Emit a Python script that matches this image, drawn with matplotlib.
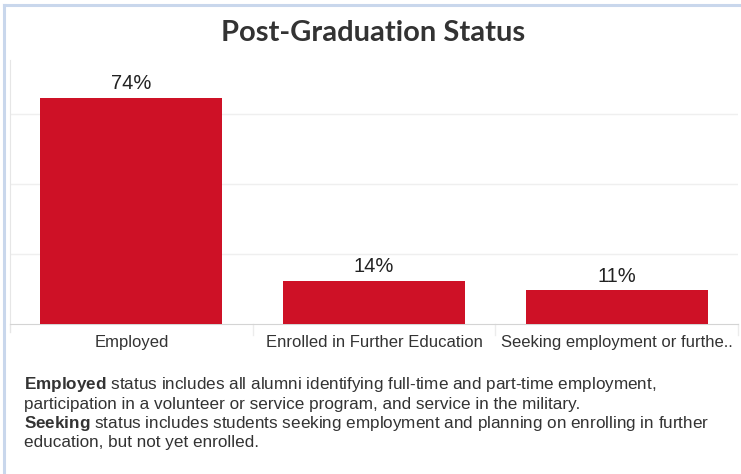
import matplotlib
matplotlib.use("Agg")
import matplotlib.pyplot as plt
import matplotlib.transforms as mtransforms
import numpy as np

# data
categories = ["Employed", "Enrolled in Further Education", "Seeking employment or furthe.."]
shares = [74, 14, 11]
value_labels = ["74%", "14%", "11%"]
grid_values = [22.9, 45.8, 68.7]

title = "Post-Graduation Status"
notes = [
    ("Employed", " status includes all alumni identifying full-time and part-time employment,"),
    ("", "participation in a volunteer or service program, and service in the military."),
    ("Seeking", " status includes students seeking employment and planning on enrolling in further"),
    ("", "education, but not yet enrolled."),
]

bar_color = "#CE1126"
W, H = 741, 474

plt.rcParams["font.family"] = ["Liberation Sans", "DejaVu Sans"]
plt.rcParams["mathtext.fontset"] = "custom"
plt.rcParams["mathtext.rm"] = "Liberation Sans"
plt.rcParams["mathtext.bf"] = "Liberation Sans:bold"

fig = plt.figure(figsize=(W / 100, H / 100), dpi=100)
fig.patch.set_facecolor("white")

# light blue frame on the left and top
fig.add_artist(plt.Line2D([4 / W, 4 / W], [0, 1 - 5 / H], color="#c9d7ec", lw=2.2))
fig.add_artist(plt.Line2D([4 / W, 1], [1 - 5 / H, 1 - 5 / H], color="#c9d7ec", lw=2.2))

ax = fig.add_axes([10 / W, 1 - 324 / H, (738 - 10) / W, (324 - 60) / H])
x = np.arange(len(categories))
bars = ax.bar(x, shares, width=0.75, color=bar_color, zorder=3)
ax.bar_label(bars, labels=value_labels, padding=3.5, fontsize=14.5, color="#222222")

ax.set_xlim(-0.5, len(categories) - 0.5)
ax.set_ylim(0, (324 - 60) * shares[0] / (324 - 98))
ax.set_yticks(grid_values)
ax.set_yticklabels([])
ax.tick_params(axis="y", length=0)
ax.grid(axis="y", color="#efefef", lw=1, zorder=0)

ax.set_xticks(x)
ax.set_xticklabels(categories, fontsize=12, color="#333333")
ax.tick_params(axis="x", length=0, pad=8)

for s in ["top", "right"]:
    ax.spines[s].set_visible(False)
ax.spines["left"].set_color("#e6e6e6")
ax.spines["bottom"].set_color("#d4d4d4")
ax.spines["bottom"].set_linestyle((0, (2, 1)))

# row header separators below the axis
trans = mtransforms.blended_transform_factory(ax.transData, ax.transAxes)
for i in range(len(categories)):
    ax.plot([i + 0.5, i + 0.5], [0, -0.04], color="#ececec", lw=1,
            transform=trans, clip_on=False)
ax.plot([-0.5, -0.5], [0, -0.03], color="#e6e6e6", lw=1, transform=trans, clip_on=False)

fig.text(373 / W, 1 - 41 / H, title, ha="center", va="baseline",
         fontsize=21, fontweight="bold", color="#333333", family=["Lato", "DejaVu Sans"])

y0 = 389
for k, (bold, rest) in enumerate(notes):
    s = rest
    if bold:
        s = r"$\bf{" + bold + "}$" + rest
    fig.text(24 / W, 1 - (y0 + k * 19.5) / H, s, ha="left", va="baseline",
             fontsize=12.3, color="#333333")

fig.savefig("out.png", dpi=100, facecolor="white")
